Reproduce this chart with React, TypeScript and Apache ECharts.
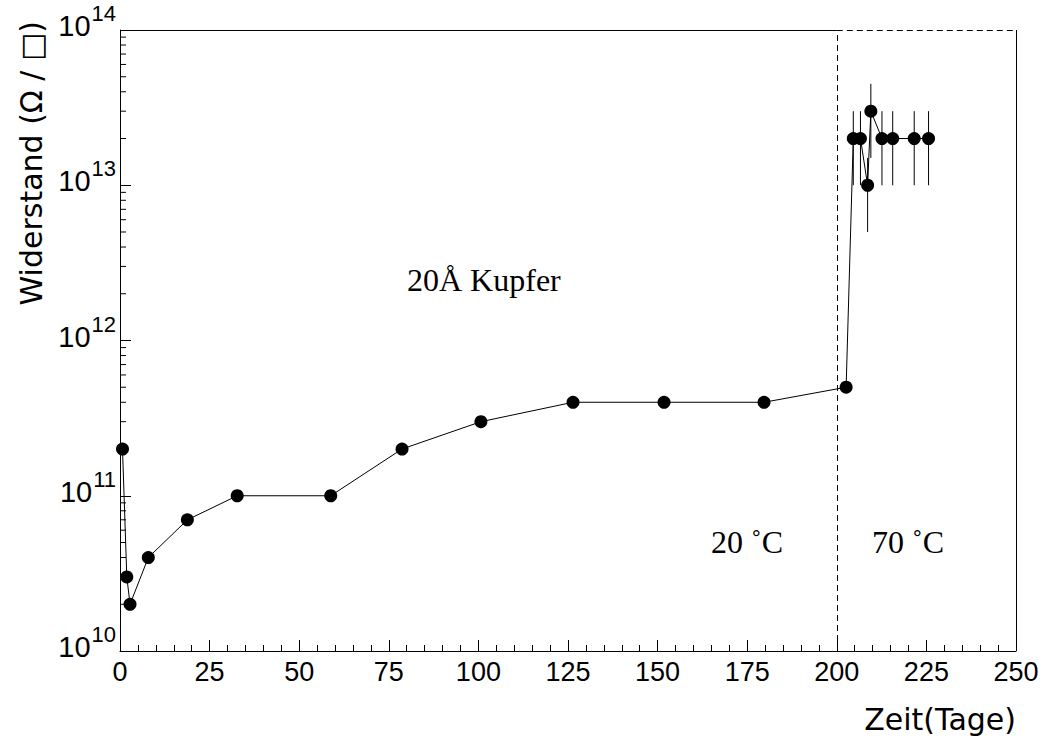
import React, { useEffect, useRef } from "react";
import * as echarts from "echarts";

// Measurement data: time (days) and sheet resistance (Ohm/square)
const days = [0.7, 1.9, 2.8, 7.9, 18.8, 32.7, 58.8, 78.7, 100.7, 126.4, 151.8, 179.7, 202.6, 204.6, 206.6, 208.6, 209.5, 212.6, 215.6, 221.6, 225.6];
const resistance = [2e11, 3e10, 2e10, 4e10, 7e10, 1e11, 1e11, 2e11, 3e11, 4e11, 4e11, 4e11, 5e11, 2e13, 2e13, 1e13, 3e13, 2e13, 2e13, 2e13, 2e13];

// Error bars for the 70 °C points
const errDays = [204.6, 206.6, 208.6, 209.5, 212.6, 215.6, 221.6, 225.6];
const errLow = [1e13, 1e13, 5e12, 1.5e13, 1e13, 1e13, 1e13, 1e13];
const errHigh = [3e13, 3e13, 1.5e13, 4.5e13, 3e13, 3e13, 3e13, 3e13];

// Axis ranges / ticks
const xMin = 0;
const xMax = 250;
const xInterval = 25;
const yMin = 1e10;
const yMax = 1e14;
const tempBoundary = 200;
const decadeExponents = [10, 11, 12, 13];
const minorMultipliers = [2, 3, 4, 5, 6, 7, 8, 9];
const yMinorTicks: number[] = [];
decadeExponents.forEach((e) => minorMultipliers.forEach((m) => yMinorTicks.push(m * Math.pow(10, e))));

const annotationMain = "20Å Kupfer";
const annotationLeft = "20 ˚C";
const annotationRight = "70 ˚C";
const xTitle = "Zeit(Tage)";
const yTitle = "Widerstand (Ω / □)";

const SANS = "'Liberation Sans', Arial, Helvetica, sans-serif";
const TITLE = "'DejaVu Sans', Verdana, sans-serif";
const SERIF = "'Liberation Serif', 'Times New Roman', serif";

export default function App() {
  const ref = useRef<HTMLDivElement>(null);
  useEffect(() => {
    if (!ref.current) return;
    const chart = echarts.init(ref.current, null, { renderer: "svg" });
    const option: any = {
      animation: false,
      backgroundColor: "#fff",
      grid: { left: 120, right: 31, top: 30, bottom: 87, show: false, outerBoundsMode: "none", containLabel: false },
      xAxis: {
        type: "value",
        min: xMin,
        max: xMax,
        interval: xInterval,
        axisLine: { show: true, lineStyle: { color: "#000", width: 1 } },
        axisTick: { show: true, inside: true, length: 11, lineStyle: { color: "#000" } },
        minorTick: { show: true, splitNumber: 5, length: 6, lineStyle: { color: "#000" } },
        splitLine: { show: false },
        axisLabel: { color: "#000", fontFamily: SANS, fontSize: 27, margin: 7 },
      },
      yAxis: {
        type: "log",
        logBase: 10,
        min: yMin,
        max: yMax,
        splitNumber: 4,
        axisLine: { show: true, lineStyle: { color: "#000", width: 1 } },
        axisTick: { show: true, inside: true, length: 11, lineStyle: { color: "#000" } },
        splitLine: { show: false },
        axisLabel: {
          margin: 4,
          padding: [0, 0, 8, 0],
          formatter: (v: number) => `{b|10}{s|${Math.round(Math.log10(v))}}`,
          rich: {
            b: { fontFamily: SANS, fontSize: 29, lineHeight: 29, color: "#000", verticalAlign: "bottom" },
            s: { fontFamily: SANS, fontSize: 22, lineHeight: 22, color: "#000", verticalAlign: "bottom", padding: [0, 0, 16, 1] },
          },
        },
      },
      series: [
        {
          type: "custom",
          name: "minorTicks",
          silent: true,
          clip: false,
          z: 1,
          data: yMinorTicks.map((v) => [xMin, v]),
          renderItem: (params: any, api: any) => {
            const p = api.coord([xMin, api.value(1)]);
            return {
              type: "line",
              shape: { x1: p[0], y1: p[1], x2: p[0] + 6, y2: p[1] },
              style: { stroke: "#000", lineWidth: 1 },
            };
          },
        },
        {
          type: "custom",
          name: "errors",
          silent: true,
          z: 2,
          data: errDays.map((d, i) => [d, errLow[i], errHigh[i]]),
          renderItem: (params: any, api: any) => {
            const lo = api.coord([api.value(0), api.value(1)]);
            const hi = api.coord([api.value(0), api.value(2)]);
            return {
              type: "line",
              shape: { x1: lo[0], y1: lo[1], x2: hi[0], y2: hi[1] },
              style: { stroke: "#000", lineWidth: 1 },
            };
          },
        },
        {
          type: "line",
          name: "Widerstand",
          z: 3,
          clip: false,
          data: days.map((d, i) => [d, resistance[i]]),
          symbol: "circle",
          symbolSize: 13,
          itemStyle: { color: "#000" },
          lineStyle: { color: "#000", width: 1 },
          markLine: {
            silent: true,
            symbol: "none",
            label: { show: false },
            data: [
              [
                { coord: [tempBoundary, yMin], lineStyle: { type: [6, 4], color: "#000", width: 1 } },
                { coord: [tempBoundary, yMax] },
              ],
              [
                { coord: [tempBoundary, yMax], lineStyle: { type: [6, 4], color: "#000", width: 1 } },
                { coord: [xMax, yMax] },
              ],
              [
                { coord: [xMin, yMax], lineStyle: { type: "solid", color: "#000", width: 1 } },
                { coord: [tempBoundary, yMax] },
              ],
              [
                { coord: [xMax, yMin], lineStyle: { type: "solid", color: "#000", width: 1 } },
                { coord: [xMax, yMax] },
              ],
            ],
          },
        },
      ],
      graphic: [
        {
          type: "text",
          left: 407,
          top: 264,
          style: { text: annotationMain, font: `32px ${SERIF}`, fill: "#000" },
        },
        {
          type: "text",
          left: 711,
          top: 526,
          style: { text: annotationLeft, font: `32px ${SERIF}`, fill: "#000" },
        },
        {
          type: "text",
          left: 872,
          top: 526,
          style: { text: annotationRight, font: `32px ${SERIF}`, fill: "#000" },
        },
        {
          type: "text",
          x: 1016,
          y: 719,
          style: { text: xTitle, font: `30px ${TITLE}`, fill: "#000", align: "right", verticalAlign: "middle" },
        },
        {
          type: "text",
          x: 31,
          y: 21,
          rotation: Math.PI / 2,
          style: { text: yTitle, font: `30px ${TITLE}`, fill: "#000", align: "right", verticalAlign: "middle" },
        },
      ],
    };
    chart.setOption(option);
    return () => chart.dispose();
  }, []);
  return (
    <div
      ref={ref}
      style={{ position: "fixed", left: 0, top: 0, width: 1047, height: 738, background: "#fff" }}
    />
  );
}
